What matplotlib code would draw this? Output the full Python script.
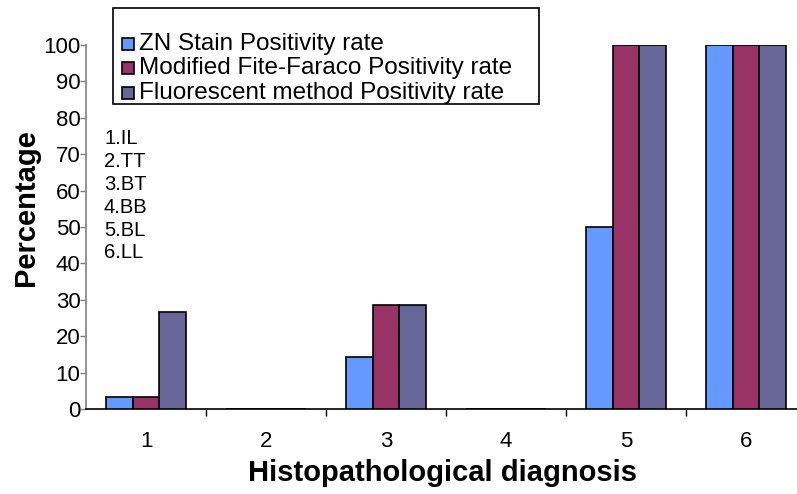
import matplotlib
matplotlib.use("Agg")
import matplotlib.pyplot as plt
from matplotlib.patches import Rectangle
import numpy as np

plt.rcParams['font.family'] = ['Liberation Sans', 'DejaVu Sans']

categories = ["1", "2", "3", "4", "5", "6"]
series_names = ["ZN Stain Positivity rate",
                "Modified Fite-Faraco Positivity rate",
                "Fluorescent method Positivity rate"]
zn_values = [3.3, 0, 14.3, 0, 50, 100]
mff_values = [3.3, 0, 28.6, 0, 100, 100]
fluor_values = [26.7, 0, 28.6, 0, 100, 100]
yticks = [0, 10, 20, 30, 40, 50, 60, 70, 80, 90, 100]
note_lines = ["1.IL", "2.TT", "3.BT", "4.BB", "5.BL", "6.LL"]
colors = ["#6699FF", "#993366", "#666699"]

W, H = 797, 494
fig = plt.figure(figsize=(W / 100, H / 100), dpi=100)
ax = fig.add_axes([86 / W, (H - 409) / H, 720 / W, 364 / H])

x = np.arange(len(categories))
bw = 0.222
for k, (vals, c, name) in enumerate(zip([zn_values, mff_values, fluor_values], colors, series_names)):
    ax.bar(x + (k - 1) * bw, vals, width=bw, color=c, edgecolor="black",
           linewidth=1.2, label=name, zorder=3)

ax.set_xlim(-0.5, 5.5)
ax.set_ylim(0, 100)
ax.set_yticks(yticks)
ax.set_yticklabels([str(v) for v in yticks], fontsize=16)
ax.set_xticks(x)
ax.set_xticklabels(categories, fontsize=16)
ax.set_xticks(np.arange(0.5, 5.0, 1.0), minor=True)
ax.tick_params(axis='x', which='major', length=0, pad=16)
ax.tick_params(axis='x', which='minor', length=5, width=1, direction='out', color='black')
ax.tick_params(axis='y', length=4, width=1, direction='out', color='#808080', pad=0)

for s in ["top", "right"]:
    ax.spines[s].set_visible(False)
ax.spines["left"].set_color("#808080")
ax.spines["left"].set_linewidth(1.2)
ax.spines["bottom"].set_color("black")
ax.spines["bottom"].set_linewidth(1.2)

fig.text(26 / W, 1 - 208 / H, "Percentage", rotation=90, fontsize=21,
         fontweight="bold", ha="center", va="center")
fig.text(443 / W, 1 - 473 / H, "Histopathological diagnosis", fontsize=21,
         fontweight="bold", ha="center", va="center")

for i, line in enumerate(note_lines):
    fig.text(104 / W, 1 - (139 + i * 22.8) / H, line, fontsize=14.5,
             ha="left", va="center")

# legend box
fig.patches.append(Rectangle((113 / W, 1 - 104 / H), (539 - 113) / W, (104 - 8) / H,
                             transform=fig.transFigure, fill=False,
                             edgecolor="black", linewidth=1.2))
baselines = [50, 74.3, 99]
for name, c, b in zip(series_names, colors, baselines):
    fig.patches.append(Rectangle((122 / W, 1 - b / H), 12 / W, 12 / H,
                                 transform=fig.transFigure, facecolor=c,
                                 edgecolor="black", linewidth=1.2))
    fig.text(139 / W, 1 - b / H, name, fontsize=17.5, ha="left", va="baseline")

fig.savefig("out.png", dpi=100)
